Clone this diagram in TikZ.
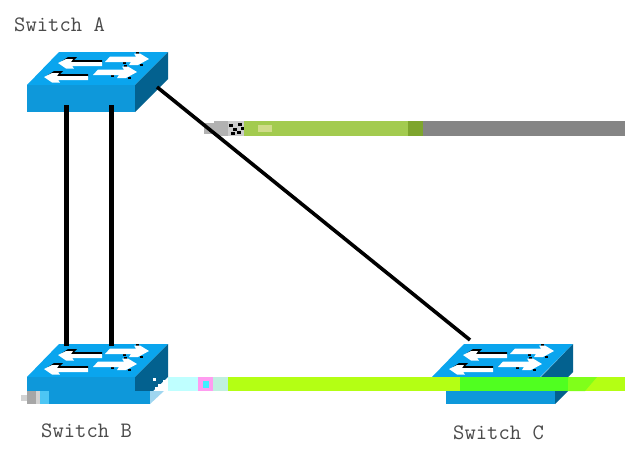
\documentclass[tikz,border=0pt]{standalone}
\usepackage{tikz}
\definecolor{topc}{HTML}{0AA5EE}
\definecolor{frontc}{HTML}{0E98DA}
\definecolor{sidec}{HTML}{03618F}
\definecolor{labelc}{HTML}{4A4A4A}
\definecolor{upgreen}{HTML}{A3CB4F}
\definecolor{uppale}{HTML}{D0DC8A}
\definecolor{updark}{HTML}{7EA52D}
\definecolor{upgray}{HTML}{858585}
\definecolor{lowcyan}{HTML}{BFFFFF}
\definecolor{lowpink}{HTML}{FF9CF0}
\definecolor{lowcyanb}{HTML}{40F0FF}
\definecolor{lowpale}{HTML}{C0F0E0}
\definecolor{lowlime}{HTML}{B4FF14}
\definecolor{lowgreen}{HTML}{50FF20}
\definecolor{lowmix}{HTML}{80FF1A}
\tikzset{
  x=1pt,y=-1pt,
  swlabel/.style={font=\ttfamily\fontsize{22}{24}\selectfont,text=labelc,inner sep=0pt,anchor=west},
  link/.style={draw=black,line width=5pt},
  thinlink/.style={draw=black,line width=3.6pt},
  pics/swtop/.style={code={
    \fill[topc] (0,0) -- (32,-33) -- (141,-33) -- (108,0) -- cycle;
    % arrows pointing left, dark edge along the top of the shaft
    \foreach \tx/\ty in {31/-22, 17/-8}{
      \begin{scope}[shift={(\tx,\ty)}]
        \fill[black] (4,-2) -- (10,-6) -- (19,-6) -- (16,-3) -- (44,-3) -- (44,0) -- (12,0) -- cycle;
        \fill[white] (0,0) -- (8,-4) -- (15,-4) -- (13,-1) -- (44,-1) -- (44,3) -- (14,3) -- (16,5.5) -- (8,5.5) -- cycle;
      \end{scope}
    }
    % arrows pointing right, dark specks at the head only
    \foreach \tx/\ty in {122/-26, 110/-13}{
      \begin{scope}[shift={(\tx,\ty)}]
        \fill[black] (-13,-7) rectangle (-10,-5);
        \fill[black] (-9,5) rectangle (-6,7);
        \fill[black] (-26,3) rectangle (-23,5);
        \fill[white] (0,0) -- (-9,-5.5) -- (-15,-5.5) -- (-13,-2.5) -- (-39,-2.5) -- (-44,3) -- (-18,3) -- (-20,6) -- (-11,6) -- cycle;
      \end{scope}
    }
  }}
}
\begin{document}
\begin{tikzpicture}
\useasboundingbox (0,0) rectangle (625,448);
\fill[white] (0,0) rectangle (625,448);

% Switch A
\coordinate (swA) at (27,85);
\pic at (swA) {swtop};
\fill[frontc] (27,85) rectangle (135,112);
\fill[sidec] (135,85) -- (168,52) -- (168,79) -- (135,112) -- cycle;

% Switch B
\coordinate (swB) at (27,377);
\pic at (swB) {swtop};
\fill[frontc] (27,377) rectangle (135,391);
\fill[sidec] (135,377) -- (168,344) -- (168,377) -- (153,391) -- (135,391) -- cycle;
\fill[frontc] (40,391) -- (150,391) -- (150,404) -- (40,404) -- cycle;
\fill[white!60!frontc] (150,404) -- (150,391) -- (164,391) -- cycle;
\fill[gray!70] (27,391) rectangle (36,404);
\fill[gray!35] (21,395) rectangle (27,401);
\fill[gray!35] (36,391) rectangle (40,404);
\fill[cyan!70] (40,391) rectangle (49,404);

% Switch C
\coordinate (swC) at (432,377);
\pic at (swC) {swtop};
\fill[sidec] (541,377) -- (573,344) -- (573,372) -- (568,377) -- cycle;
\fill[frontc] (446,391) rectangle (555,404);
\fill[sidec] (555,404) -- (568,391) -- (555,391) -- cycle;

% Upper stripe
\fill[gray!60] (214,121) rectangle (228,136);
\fill[black!30] (204,123) rectangle (214,134);
\fill[white!80!black] (228,121) rectangle (244,136);
\foreach \a/\b in {229/124,233/128,238/123,231/132,237/131,241/127}
  \fill[black] (\a,\b) rectangle ++(4,3);
\fill[upgreen] (244,121) rectangle (408,136);
\fill[uppale] (258,125) rectangle (272,132);
\fill[updark] (408,121) rectangle (423,136);
\fill[upgray] (423,121) rectangle (625,136);

% Lower stripe
\fill[lowcyan] (168,377) rectangle (198,391);
\fill[lowpink] (198,377) rectangle (213,391);
\fill[lowcyanb] (203,381) rectangle (209,388);
\fill[lowpale] (213,377) rectangle (228,391);
\fill[lowlime] (228,377) rectangle (625,391);
\fill[lowgreen] (460,377) rectangle (568,391);
\fill[lowmix] (568,377) -- (597,377) -- (585,391) -- (568,391) -- cycle;
\foreach \a/\b in {153/378,158/384,163/380,155/387,161/387}
  \fill[white] (\a,\b) rectangle ++(3,3);

% Connectors
\coordinate (a1) at (66,105);
\coordinate (b1) at (66,346);
\coordinate (a2) at (111,105);
\coordinate (b2) at (111,346);
\coordinate (a3) at (157,87);
\coordinate (c3) at (470,340);
\draw[link] (a1) -- (b1);
\draw[link] (a2) -- (b2);
\draw[thinlink] (a3) -- (c3);

% Labels
\node[swlabel] (la) at (14,25) {Switch A};
\node[swlabel] (lb) at (41,431) {Switch B};
\node[swlabel] (lc) at (453,433) {Switch C};
\end{tikzpicture}
\end{document}
